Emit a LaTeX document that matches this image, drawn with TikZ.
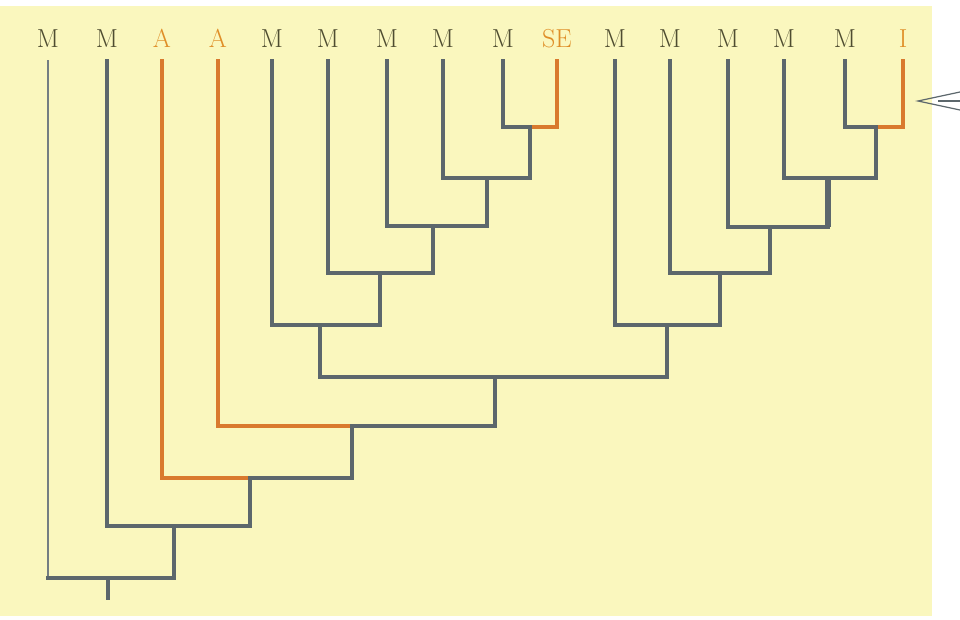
\documentclass[tikz,border=0pt]{standalone}
\usepackage{fontspec}
\setmainfont{Latin Modern Roman}
\begin{document}
\begin{tikzpicture}[x=1pt,y=-1pt,
  br/.style={draw=branch,line width=3.5pt,line cap=rect},
  orb/.style={draw=orng,line width=3.5pt,line cap=rect},
  lab/.style={font=\fontsize{26}{26}\selectfont,text=labM,inner sep=0pt,anchor=base},
  laba/.style={lab,text=orng!85!yellow}]
\definecolor{bg}{HTML}{FAF7BE}
\definecolor{branch}{HTML}{5C676C}
\definecolor{orng}{HTML}{D97A2E}
\definecolor{labM}{HTML}{4E4C30}
\useasboundingbox (0,0) rectangle (960,620);
\fill[white] (0,0) rectangle (960,620);
\fill[bg] (0,6) rectangle (932,616);
% labels
\foreach \n/\x/\t/\s in {1/48/M/lab,2/107/M/lab,3/162/A/laba,4/218/A/laba,5/272/M/lab,6/328/M/lab,7/387/M/lab,8/443/M/lab,9/503/M/lab,10/557/SE/laba,11/615/M/lab,12/670/M/lab,13/728/M/lab,14/784/M/lab,15/845/M/lab,16/903/I/laba}{
  \node[\s] (L\n) at (\x,48) {\t};
  \coordinate (t\n) at (\x,61);
}
% internal nodes
\coordinate (n9) at (530,127);
\coordinate (n8) at (487,178);
\coordinate (n7) at (433,226);
\coordinate (n6) at (380,273);
\coordinate (n5) at (320,325);
\coordinate (r15) at (876,127);
\coordinate (r14) at (828,178);
\coordinate (r13) at (770,227);
\coordinate (r12) at (720,273);
\coordinate (r11) at (667,325);
\coordinate (m) at (495,377);
\coordinate (a4) at (352,426);
\coordinate (a3) at (250,478);
\coordinate (b2) at (174,526);
\coordinate (root) at (108,578);
\coordinate (base) at (108,598);
\coordinate (c1) at (48,578);
% left clade
\draw[br] (t9) |- (n9);
\draw[orb] (t10) |- (n9);
\draw[br] (t8) |- (n8) -| (n9);
\draw[br] (t7) |- (n7) -| (n8);
\draw[br] (t6) |- (n6) -| (n7);
\draw[br] (t5) |- (n5) -| (n6);
% right clade
\draw[br] (t15) |- (r15);
\draw[orb] (t16) |- (r15);
\draw[br] (t14) |- (r14) -| (r15);
\draw[br,line width=6.5pt,line cap=butt] (r14) -- (r14 |- r13);
\draw[br] (t13) |- (r13) -| (r14);
\draw[br] (t12) |- (r12) -| (r13);
\draw[br] (t11) |- (r11) -| (r12);
% joins
\draw[br] (n5) |- (m) -| (r11);
\draw[orb] (t4) |- (a4);
\draw[br] (a4) -| (m);
\draw[orb] (t3) |- (a3);
\draw[br] (a3) -| (a4);
\draw[br] (t2) |- (b2) -| (a3);
\draw[br,line width=2.5pt,draw=branch!85] (t1) -- (c1);
\draw[br] (c1) -| (b2);
\draw[br] (root) -- (base);
% pointer at right
\draw[draw=branch,line width=1.2pt] (960,92) -- (918,101) -- (960,110);
\draw[draw=branch,line width=1.2pt] (938,101) -- (960,101);
\end{tikzpicture}
\end{document}
